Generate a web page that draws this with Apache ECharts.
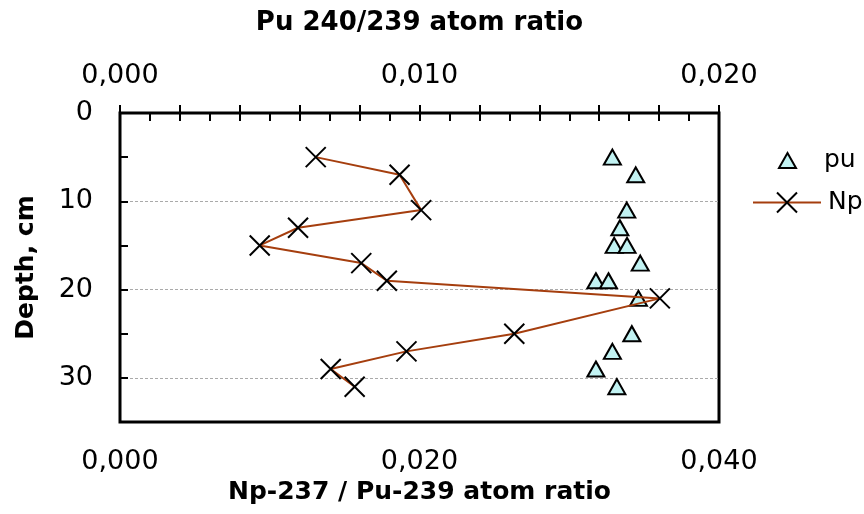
<!DOCTYPE html>
<html>
<head>
<meta charset="utf-8">
<script src="https://cdn.jsdelivr.net/npm/echarts@6/dist/echarts.min.js"></script>
<style>html,body{margin:0;padding:0;background:#fff}#c{width:864px;height:514px}</style>
</head>
<body>
<div id="c"></div>
<script>
// Pu 240/239 atom ratio (top axis) vs depth
var puDepth = [5, 7, 11, 13, 15, 15, 17, 19, 19, 21, 25, 27, 29, 31];
var puRatio = [0.01644, 0.01722, 0.01692, 0.01669, 0.01650, 0.01693, 0.01737, 0.01589, 0.01631, 0.01731, 0.01709, 0.01644, 0.01589, 0.01659];
// Np-237 / Pu-239 atom ratio (bottom axis) vs depth
var npDepth = [5, 7, 11, 13, 15, 17, 19, 21, 25, 27, 29, 31];
var npRatio = [0.01307, 0.01867, 0.02011, 0.01189, 0.00933, 0.01611, 0.01782, 0.03605, 0.02633, 0.01913, 0.01407, 0.01567];
// tick labels
var bottomTickValues = [0, 0.02, 0.04];
var bottomTickLabels = ['0,000', '0,020', '0,040'];
var topTickValues = [0, 0.01, 0.02];
var topTickLabels = ['0,000', '0,010', '0,020'];
var depthTickValues = [0, 10, 20, 30];
var depthTickLabels = ['0', '10', '20', '30'];

function lookup(vals, labs) {
  return function (v) {
    for (var i = 0; i < vals.length; i++) {
      if (Math.abs(v - vals[i]) < 1e-9) return labs[i];
    }
    return '';
  };
}

var FONT = 'DejaVu Sans';
var chart = echarts.init(document.getElementById('c'), null, {renderer: 'canvas'});
var xSym = 'path://M0,0L20,20M20,0L0,20';

chart.setOption({
  animation: false,
  backgroundColor: '#fff',
  grid: {left: 120, right: 145, top: 113, bottom: 92, show: true, borderColor: '#000', borderWidth: 3, backgroundColor: 'transparent'},
  legend: [
    {data: ['pu'], orient: 'vertical', left: 773, top: 143, itemWidth: 17, itemHeight: 15, itemGap: 0,
     textStyle: {fontFamily: FONT, fontSize: 25, color: '#000', padding: [0, 0, 0, 23]}},
    {data: ['Np'], orient: 'vertical', left: 747, top: 185, itemWidth: 68, itemHeight: 25, itemGap: 0,
     textStyle: {fontFamily: FONT, fontSize: 25, color: '#000', padding: [0, 0, 0, 2]}}
  ],
  xAxis: [
    {type: 'value', position: 'bottom', min: 0, max: 0.04, interval: 0.004,
     name: 'Np-237 / Pu-239 atom ratio', nameLocation: 'middle', nameGap: 58,
     nameTextStyle: {fontFamily: FONT, fontSize: 25, fontWeight: 'bold', color: '#000'},
     axisLine: {show: false}, axisTick: {show: true, inside: true, length: 8, lineStyle: {color: '#000', width: 2}},
     axisLabel: {margin: 26, fontFamily: FONT, fontSize: 27, color: '#000', formatter: lookup(bottomTickValues, bottomTickLabels)},
     splitLine: {show: false}},
    {type: 'value', position: 'top', min: 0, max: 0.02, interval: 0.001,
     name: 'Pu 240/239 atom ratio', nameLocation: 'middle', nameGap: 77,
     nameTextStyle: {fontFamily: FONT, fontSize: 26, fontWeight: 'bold', color: '#000'},
     axisLine: {show: false}, axisTick: {show: true, inside: true, length: 8, lineStyle: {color: '#000', width: 2}},
     axisLabel: {margin: 24, fontFamily: FONT, fontSize: 27, color: '#000', formatter: lookup(topTickValues, topTickLabels)},
     splitLine: {show: false}}
  ],
  yAxis: [
    {type: 'value', position: 'left', inverse: true, min: 0, max: 35, interval: 5,
     name: 'Depth, cm', nameLocation: 'middle', nameGap: 81, nameRotate: 90,
     nameTextStyle: {fontFamily: FONT, fontSize: 25, fontWeight: 'bold', color: '#000'},
     axisLine: {show: false}, axisTick: {show: true, inside: true, length: 8, lineStyle: {color: '#000', width: 2}},
     axisLabel: {margin: 27, fontFamily: FONT, fontSize: 27, color: '#000', formatter: lookup(depthTickValues, depthTickLabels)},
     splitLine: {show: false}},
    {type: 'value', position: 'left', inverse: true, min: 0, max: 35, interval: 10,
     axisLine: {show: false}, axisTick: {show: false}, axisLabel: {show: false},
     splitLine: {show: true, showMinLine: false, showMaxLine: false, lineStyle: {color: '#aaaaaa', width: 1, type: [3, 2]}}}
  ],
  series: [
    {name: 'pu', type: 'scatter', xAxisIndex: 1, yAxisIndex: 0, z: 3,
     symbol: 'triangle', symbolSize: [17, 15],
     itemStyle: {color: '#c2f3f3', borderColor: '#000', borderWidth: 2, opacity: 1},
     data: puRatio.map(function (v, i) { return [v, puDepth[i]]; })},
    {name: 'Np', type: 'line', xAxisIndex: 0, yAxisIndex: 0, z: 4,
     symbol: xSym, symbolSize: 20, showAllSymbol: true,
     lineStyle: {color: '#a53e0e', width: 2},
     itemStyle: {color: 'rgba(0,0,0,0)', borderColor: '#000', borderWidth: 2},
     data: npRatio.map(function (v, i) { return [v, npDepth[i]]; })}
  ]
});
</script>
</body>
</html>
